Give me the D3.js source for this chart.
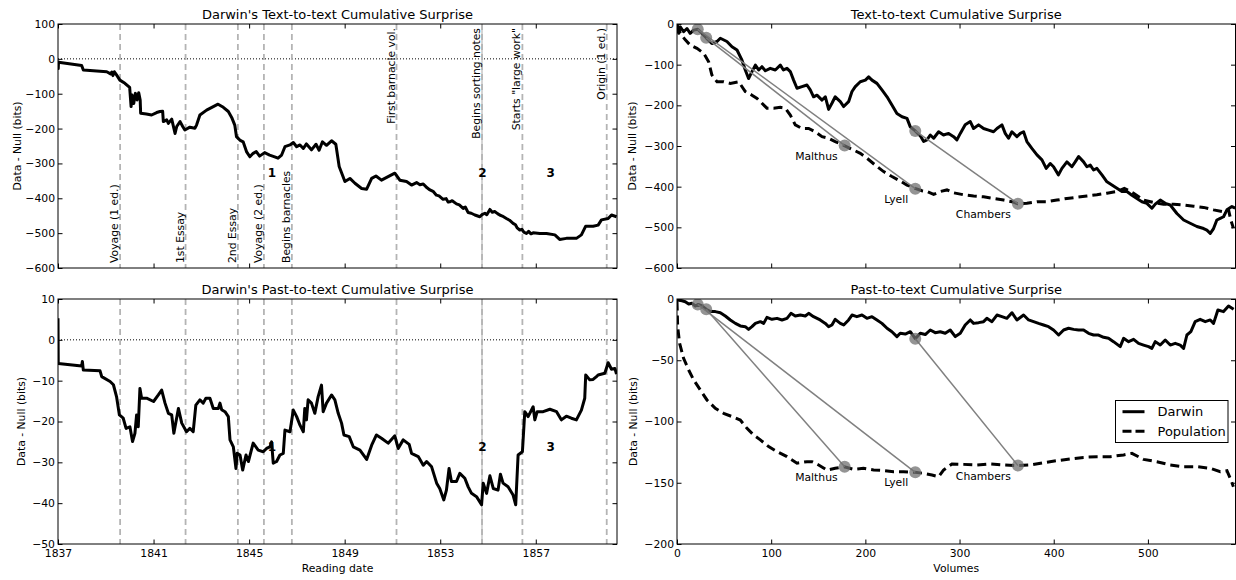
<!DOCTYPE html>
<html><head><meta charset="utf-8">
<script src="https://cdn.jsdelivr.net/npm/d3@7"></script>
<style>body{margin:0;background:#fff} text{font-family:"DejaVu Sans",sans-serif;fill:#000}</style>
</head><body><svg id="c" width="1236" height="580"></svg>
<script>
// ---------------- DATA ----------------
const yearTicks = [1837, 1841, 1845, 1849, 1853, 1857];
const volTicks = [0, 100, 200, 300, 400, 500];
const ttTicks = [100, 0, -100, -200, -300, -400, -500, -600];
const ptTicks = [10, 0, -10, -20, -30, -40, -50];
const rtTicks = [0, -100, -200, -300, -400, -500, -600];
const rpTicks = [0, -50, -100, -150, -200];

const eventNames = ["Voyage (1 ed.)", "1st Essay", "2nd Essay", "Voyage (2 ed.)", "Begins barnacles",
  "First barnacle vol.", "Begins sorting notes", "Starts \"large work\"", "Origin (1 ed.)"];
const eventYears = [1839.6, 1842.34, 1844.53, 1845.62, 1846.79, 1851.17, 1854.75, 1856.44, 1859.97];

const phaseNames = ["1", "2", "3"];
const phaseYears = [1845.95, 1854.77, 1857.62];

// Darwin's text-to-text cumulative surprise vs reading date [year, bits]
const ttDarwin = [[1837.00,-5],[1837.01,-28],[1837.02,-10],[1837.99,-19],[1838.06,-32],[1839.04,-37],[1839.2,-43],[1839.25,-38],[1839.3,-48],[1839.36,-37],[1839.45,-46],[1839.59,-61],[1839.8,-70],[1840.0,-82],[1840.06,-137],[1840.1,-104],[1840.17,-128],[1840.24,-99],[1840.31,-118],[1840.38,-97],[1840.44,-118],[1840.46,-156],[1840.7,-158],[1840.92,-161],[1841.13,-154],[1841.27,-151],[1841.38,-150],[1841.41,-180],[1841.55,-175],[1841.62,-185],[1841.76,-173],[1841.9,-214],[1841.97,-194],[1842.11,-180],[1842.22,-194],[1842.31,-204],[1842.52,-196],[1842.73,-199],[1842.8,-190],[1842.94,-161],[1843.22,-147],[1843.5,-137],[1843.7,-130],[1843.92,-139],[1844.13,-151],[1844.27,-168],[1844.4,-190],[1844.47,-223],[1844.61,-233],[1844.75,-238],[1844.89,-266],[1845.03,-281],[1845.17,-271],[1845.3,-266],[1845.44,-279],[1845.65,-269],[1845.86,-276],[1846.07,-281],[1846.21,-285],[1846.36,-276],[1846.5,-252],[1846.71,-247],[1846.85,-240],[1846.99,-252],[1847.13,-247],[1847.27,-257],[1847.4,-244],[1847.61,-261],[1847.8,-245],[1847.93,-262],[1848.07,-238],[1848.24,-248],[1848.45,-235],[1848.63,-245],[1848.77,-309],[1849.01,-352],[1849.22,-343],[1849.43,-357],[1849.71,-372],[1849.92,-374],[1850.13,-343],[1850.31,-336],[1850.54,-348],[1850.82,-338],[1851.1,-328],[1851.31,-348],[1851.59,-352],[1851.8,-362],[1852.01,-355],[1852.15,-361],[1852.29,-359],[1852.45,-370],[1852.57,-376],[1852.7,-380],[1852.84,-391],[1852.95,-393],[1853.12,-403],[1853.25,-401],[1853.33,-411],[1853.4,-410],[1853.5,-407],[1853.68,-416],[1853.8,-419],[1853.96,-429],[1854.05,-425],[1854.17,-441],[1854.3,-443],[1854.45,-448],[1854.66,-453],[1854.75,-447],[1854.87,-443],[1854.95,-447],[1855.08,-432],[1855.18,-440],[1855.28,-438],[1855.4,-444],[1855.49,-448],[1855.6,-451],[1855.77,-458],[1855.9,-463],[1856.05,-472],[1856.15,-476],[1856.22,-485],[1856.33,-491],[1856.42,-489],[1856.5,-497],[1856.61,-501],[1856.7,-495],[1856.8,-502],[1856.89,-499],[1857.17,-501],[1857.45,-501],[1857.8,-505],[1858.0,-518],[1858.28,-515],[1858.7,-515],[1858.91,-505],[1859.09,-480],[1859.4,-480],[1859.61,-477],[1859.75,-462],[1860.03,-458],[1860.17,-448],[1860.38,-453]];

// Darwin's past-to-text cumulative surprise vs reading date [year, bits]
const ptDarwin = [[1837.0,5.3],[1837.01,-5.8],[1837.99,-6.4],[1838.02,-5.3],[1838.06,-7.4],[1838.76,-7.6],[1838.83,-9],[1839.18,-10.2],[1839.32,-11],[1839.45,-13.9],[1839.57,-18.4],[1839.73,-19.2],[1839.85,-21.7],[1840.01,-21.3],[1840.12,-24.9],[1840.22,-22.9],[1840.29,-18.4],[1840.36,-21.3],[1840.43,-11.9],[1840.5,-14.3],[1840.71,-14.3],[1841.0,-15.1],[1841.2,-13.5],[1841.34,-12.3],[1841.48,-15.5],[1841.62,-18],[1841.76,-18.4],[1841.85,-22.9],[1842.04,-16.8],[1842.18,-20.4],[1842.38,-22.5],[1842.52,-21.7],[1842.66,-22.5],[1842.77,-16],[1842.94,-14.7],[1843.08,-15.5],[1843.19,-14.3],[1843.36,-14.3],[1843.5,-16.8],[1843.71,-16.8],[1843.78,-15.5],[1843.85,-17.1],[1843.99,-17.6],[1844.13,-18.8],[1844.2,-24.5],[1844.34,-26.2],[1844.45,-31.5],[1844.5,-27.8],[1844.62,-28.2],[1844.73,-31.9],[1844.87,-28.2],[1844.97,-29.8],[1845.17,-25.3],[1845.38,-27],[1845.59,-27.4],[1845.73,-26.6],[1845.87,-26.2],[1845.94,-25],[1846.01,-30.2],[1846.15,-29.8],[1846.29,-28.2],[1846.43,-27.8],[1846.5,-22.1],[1846.71,-22.5],[1846.85,-17.2],[1846.99,-18.8],[1847.13,-20.9],[1847.27,-22.5],[1847.33,-16.8],[1847.4,-19.6],[1847.47,-14.7],[1847.61,-15.5],[1847.75,-18],[1847.89,-13.9],[1848.03,-11.1],[1848.1,-17.6],[1848.24,-15.5],[1848.45,-13.5],[1848.59,-14.7],[1848.73,-18],[1848.87,-20.4],[1848.97,-23.3],[1849.19,-23.7],[1849.36,-26.2],[1849.64,-27],[1849.92,-29.3],[1850.13,-25.8],[1850.33,-23.3],[1850.54,-24.1],[1850.82,-25.3],[1851.1,-23.5],[1851.24,-26.6],[1851.45,-24.5],[1851.7,-25.6],[1851.8,-27.8],[1852.08,-28.6],[1852.29,-30.7],[1852.43,-29.8],[1852.64,-31.1],[1852.85,-35.1],[1852.98,-36.4],[1853.15,-39.2],[1853.26,-36.8],[1853.37,-31.5],[1853.47,-34.7],[1853.68,-34.7],[1853.82,-32.7],[1854.03,-33.9],[1854.17,-36],[1854.31,-37.6],[1854.52,-38.4],[1854.73,-40.4],[1854.8,-35.1],[1854.94,-37.6],[1855.08,-33.3],[1855.22,-36.4],[1855.42,-36.8],[1855.52,-32.9],[1855.63,-35.1],[1855.84,-36],[1856.05,-38],[1856.16,-40.4],[1856.26,-28.2],[1856.44,-27.4],[1856.54,-17.6],[1856.68,-18.8],[1856.89,-16.4],[1856.96,-19.6],[1857.06,-17.6],[1857.31,-17.6],[1857.59,-17],[1857.87,-17.6],[1858.07,-19.6],[1858.28,-18.7],[1858.49,-19.2],[1858.7,-19.6],[1858.91,-17.2],[1859.05,-14.3],[1859.09,-8.6],[1859.26,-9.8],[1859.4,-9.7],[1859.54,-9],[1859.61,-8.6],[1859.89,-8.2],[1860.03,-5.6],[1860.17,-7.2],[1860.31,-7],[1860.38,-8.4]];

// Text-to-text vs volumes [volume, bits]
const rtDarwin = [[0,0],[1.8,-23],[3.5,-7],[7,-19],[10.6,-11],[14,-23],[17.7,-15],[22,-13],[26.5,-23],[31,-34],[37,-48],[42.5,-43],[46,-35],[53,-43],[58.4,-56],[63.7,-64],[69,-89],[72.5,-113],[76,-134],[79.6,-117],[83.2,-101],[86.7,-113],[90.2,-105],[93.8,-115],[99,-109],[104.4,-113],[109.7,-101],[113,-113],[116.8,-109],[120.3,-117],[123.8,-138],[127.4,-158],[132.7,-154],[138,-150],[141.5,-162],[145,-179],[148.6,-175],[154,-187],[157.5,-179],[161,-210],[164.5,-195],[168,-179],[173.4,-191],[177,-203],[182.2,-191],[185.8,-166],[189.3,-154],[194.6,-142],[200,-138],[203.5,-130],[207,-138],[212.3,-146],[217.6,-162],[223,-179],[228.2,-199],[233.5,-220],[238.9,-228],[244.2,-232],[247.7,-253],[253,-263],[258.3,-275],[261.9,-289],[265.4,-285],[268.9,-273],[272.5,-281],[277.8,-265],[283,-273],[288.4,-269],[293.7,-277],[297.2,-285],[300.8,-269],[306,-248],[311.4,-240],[314.9,-257],[320.2,-248],[325.5,-257],[330.8,-261],[336.1,-265],[339.7,-257],[345,-248],[348.5,-269],[352,-281],[355.6,-265],[360.9,-277],[364.5,-269],[368,-265],[371.5,-289],[376.8,-306],[382.2,-322],[387.5,-334],[392,-355],[396.3,-343],[399.8,-351],[405,-371],[408.7,-355],[414,-339],[419.3,-351],[422.8,-339],[426.4,-326],[431.7,-339],[435.2,-351],[438.8,-347],[442.3,-359],[445.8,-355],[451.2,-371],[456.5,-388],[461.8,-396],[467.1,-404],[472.4,-412],[477.7,-412],[483,-421],[488.3,-429],[493.6,-437],[498.9,-441],[504.2,-453],[507.8,-443],[513.1,-433],[518.4,-441],[523.7,-445],[530.8,-466],[537.9,-482],[544.9,-490],[552,-498],[559.1,-503],[562.6,-507],[566.2,-515],[569.7,-503],[573.2,-482],[576.8,-478],[580.3,-474],[583.9,-457],[589.2,-449],[592.7,-453]];
const rtPopulation = [[0,-2.5],[3.5,-23],[8.8,-39],[14,-52],[21.2,-60],[28.3,-72],[33.6,-93],[37,-125],[42.5,-142],[49.5,-142],[56.6,-146],[65.5,-142],[72.5,-166],[79.6,-175],[85,-183],[90.2,-195],[95.5,-207],[102.6,-207],[109.7,-205],[115,-207],[120.3,-224],[125.6,-248],[132.7,-257],[139.8,-257],[146.8,-265],[154,-277],[161,-281],[168,-289],[177.6,-299],[187.5,-310],[194.6,-318],[201.7,-330],[210.5,-347],[219.4,-363],[228.2,-375],[235.3,-384],[244.2,-396],[252.7,-404],[260,-410],[265.4,-412],[272.5,-419],[279.5,-412],[286.6,-408],[293.7,-415],[304.3,-420],[314.9,-423],[325.5,-425],[336.1,-429],[346.8,-433],[355.6,-437],[361.6,-442],[371.5,-441],[382.2,-437],[392.8,-437],[403.4,-433],[414,-429],[424.6,-426],[435.2,-423],[445.8,-420],[456.5,-416],[467.1,-412],[474.9,-404],[484.8,-416],[495.4,-433],[506,-439],[516.6,-443],[527.2,-443],[537.9,-445],[548.5,-448],[559.1,-451],[569.7,-457],[580.3,-462],[585.6,-457],[588,-482],[590.8,-502]];

// Past-to-text vs volumes [volume, bits]
const rpDarwin = [[0,-0.8],[5.3,-1.4],[8.8,-2.2],[12.4,-4.1],[16,-3.5],[19.5,-5.7],[22.6,-4.4],[26.5,-5.7],[31,-8.4],[35.4,-10.3],[40.7,-10.3],[46,-11.2],[51.3,-13.9],[56.6,-17.1],[62,-19.9],[67.2,-22],[72.5,-22.6],[76,-24.8],[79.6,-22.6],[83.2,-19.9],[88.5,-18.5],[92,-19.9],[95.5,-15],[100.8,-16.6],[106.2,-15.8],[111.5,-17.1],[116.8,-15.8],[121,-11.7],[125.6,-13.9],[131,-13.1],[136.2,-13.9],[139.8,-11.7],[145,-14.4],[152,-17.1],[157.5,-19.9],[161,-22.6],[164.5,-21.2],[168,-16.6],[173.4,-19.9],[177,-21.2],[182.2,-17.1],[185.8,-13.1],[191,-14.4],[196.4,-13.1],[201.7,-15.8],[207,-14.4],[212.3,-17.1],[217.6,-19.9],[223,-23.9],[228.2,-26.7],[233.5,-30.7],[237,-28],[242.4,-28.6],[247.7,-26.7],[253,-32.4],[258.3,-28],[263.6,-29],[268.9,-25.3],[274.2,-27.5],[279.5,-26.7],[284.8,-28],[290.1,-25.3],[295.5,-30.7],[300.8,-28],[306,-21.2],[311.4,-17.1],[314.9,-19.9],[320.2,-19.3],[325.5,-18.5],[329,-15.8],[334.4,-18.5],[339.7,-13.1],[345,-14.4],[350.3,-15.8],[355.6,-11.2],[360.9,-17.1],[368,-13.1],[373.3,-17.1],[378.6,-18.5],[383.9,-19.9],[389.2,-21.2],[394.5,-22.6],[399.8,-25.3],[405.2,-29.4],[410.5,-25.3],[415.8,-23.9],[421.1,-24.8],[426.4,-25.3],[431.7,-25.3],[437,-28],[442.3,-29.4],[447.6,-29.4],[453,-31.3],[458.2,-32.1],[463.5,-34.8],[470.6,-38.9],[474.2,-32.1],[479.5,-34.8],[484.8,-32.9],[490.1,-36.2],[495.4,-37.6],[500.7,-38.9],[504.2,-40.3],[507.8,-34.8],[513.1,-37.6],[518.4,-33.5],[523.7,-37.6],[529,-36.2],[534.3,-37.6],[537.9,-40.3],[541.4,-29.4],[545.6,-26.7],[550.2,-18.5],[555.5,-16.6],[560.9,-18.5],[566.2,-17.1],[569.7,-19.9],[574.3,-9],[580.3,-10.3],[585.6,-5.7],[591,-8.4]];
const rpPopulation = [[0,-2],[0.7,-22.6],[2.8,-36.2],[7,-48.4],[12.4,-58],[17.7,-66],[24.8,-74.3],[31.8,-82.4],[40.7,-89.3],[49.5,-93.3],[58.4,-96],[67.2,-98.8],[74.3,-105.6],[81.4,-111],[88.5,-115],[97.3,-120.5],[106.2,-124.6],[116.8,-128.7],[127.4,-134],[138,-132.8],[143.3,-132.8],[150.4,-135.5],[159.2,-139.6],[168,-138.2],[177.6,-137],[187.5,-139],[198,-138.2],[208.8,-139.6],[219.4,-140],[230,-141],[240.6,-141],[252.7,-141.5],[261.9,-142.3],[270.7,-143.7],[277.8,-145],[283,-139.6],[291.9,-134.7],[304.3,-135],[318.4,-135.5],[332.6,-134.7],[346.8,-135.5],[361.6,-136],[375.1,-135.5],[389.2,-133.6],[403.4,-132],[417.5,-130.6],[431.7,-129.3],[445.8,-128.7],[460,-128.7],[474.2,-127.3],[483,-126],[495.4,-130.9],[509.5,-132.8],[523.7,-135.5],[537.9,-136.9],[552,-136.9],[566.2,-138.2],[576.8,-141],[583.9,-140.2],[587.4,-146.4],[590.8,-153.2]];

// Highlighted books: Darwin reading index vs population index
const bookNames = ["Malthus", "Lyell", "Chambers"];
const bookDarwinVol = [31, 22, 253];
const bookPopVol = [178, 253, 362];
const bookTTDarwin = [-34, -13, -263];
const bookTTPop = [-299, -405, -442];
const bookPTDarwin = [-8.4, -4.4, -32.4];
const bookPTPop = [-137, -141.5, -136];

const seriesNames = ["Darwin", "Population"];

// ---------------- DRAWING ----------------
const svg = d3.select("#c");
const FONT = "DejaVu Sans";
const SMALL = 10.8, BIG = 13;
let clipN = 0;

function panel(cfg) {
  const x = d3.scaleLinear().domain(cfg.xDomain).range([cfg.x0, cfg.x1]);
  const y = d3.scaleLinear().domain(cfg.yDomain).range([cfg.y1, cfg.y0]);
  const g = svg.append("g");
  const id = "clip" + (clipN++);
  svg.append("clipPath").attr("id", id).append("rect")
    .attr("x", cfg.x0).attr("y", cfg.y0).attr("width", cfg.x1 - cfg.x0).attr("height", cfg.y1 - cfg.y0);
  const plot = g.append("g").attr("clip-path", `url(#${id})`);
  const styleAxis = sel => {
    sel.select(".domain").remove();
    sel.selectAll("line").attr("stroke", "#000").attr("stroke-width", 1);
    sel.selectAll("text").attr("font-family", FONT).attr("font-size", SMALL).attr("fill", "#000");
  };
  const TS = 4.5;
  g.append("g").attr("transform", `translate(${cfg.x0},0)`)
    .call(d3.axisLeft(y).tickValues(cfg.yTicks).tickSize(-TS).tickPadding(3).tickFormat(d3.format("d"))).call(styleAxis);
  g.append("g").attr("transform", `translate(${cfg.x1},0)`)
    .call(d3.axisRight(y).tickValues(cfg.yTicks).tickSize(-TS).tickFormat("")).call(styleAxis);
  g.append("g").attr("transform", `translate(0,${cfg.y1})`)
    .call(d3.axisBottom(x).tickValues(cfg.xTicks).tickSize(-TS).tickPadding(5.5)
      .tickFormat(cfg.showX ? d3.format("d") : "")).call(styleAxis);
  g.append("g").attr("transform", `translate(0,${cfg.y0})`)
    .call(d3.axisTop(x).tickValues(cfg.xTicks).tickSize(-TS).tickFormat("")).call(styleAxis);
  g.append("text").attr("x", (cfg.x0 + cfg.x1) / 2).attr("y", cfg.y0 - 5)
    .attr("text-anchor", "middle").attr("font-size", BIG).text(cfg.title);
  g.append("text").attr("transform", `translate(${cfg.ylabX},${(cfg.y0 + cfg.y1) / 2}) rotate(-90)`)
    .attr("text-anchor", "middle").attr("font-size", SMALL).text("Data - Null (bits)");
  if (cfg.xlabel) g.append("text").attr("x", (cfg.x0 + cfg.x1) / 2).attr("y", 571.5)
    .attr("text-anchor", "middle").attr("font-size", SMALL).text(cfg.xlabel);
  return {x, y, g, plot, cfg};
}

const line = (x, y) => d3.line().x(d => x(d[0])).y(d => y(d[1]));

function leftPanel(P, data, showLabels, phaseY) {
  const {x, y, plot, g, cfg} = P;
  plot.append("line").attr("x1", cfg.x0).attr("x2", cfg.x1).attr("y1", y(0)).attr("y2", y(0))
    .attr("stroke", "#000").attr("stroke-width", 1).attr("stroke-dasharray", "1,2");
  eventYears.forEach((yr, i) => {
    if (eventNames[i] === "Begins sorting notes") {
      plot.append("line").attr("x1", x(yr)).attr("x2", x(yr)).attr("y1", cfg.y0).attr("y2", cfg.y1)
        .attr("stroke", "#d4d4d4").attr("stroke-width", 2);
    }
    plot.append("line").attr("x1", x(yr)).attr("x2", x(yr)).attr("y1", cfg.y0).attr("y2", cfg.y1)
      .attr("stroke", "#b4b4b4").attr("stroke-width", 1.8).attr("stroke-dasharray", "6,4");
  });
  plot.append("path").datum(data).attr("d", line(x, y)).attr("fill", "none")
    .attr("stroke", "#000").attr("stroke-width", 3).attr("stroke-linejoin", "round");
  if (showLabels) {
    eventYears.forEach((yr, i) => {
      const bottom = i < 5;
      g.append("text")
        .attr("transform", `translate(${x(yr) - 2},${bottom ? cfg.y1 - 5 : cfg.y0 + 4}) rotate(-90)`)
        .attr("text-anchor", bottom ? "start" : "end").attr("font-size", SMALL).text(eventNames[i]);
    });
  }
  phaseYears.forEach((yr, i) => {
    g.append("text").attr("x", x(yr)).attr("y", y(phaseY)).attr("dy", "0.35em")
      .attr("text-anchor", "middle").attr("font-size", 12).attr("font-weight", "bold").text(phaseNames[i]);
  });
  g.append("rect").attr("x", cfg.x0).attr("y", cfg.y0).attr("width", cfg.x1 - cfg.x0).attr("height", cfg.y1 - cfg.y0)
    .attr("fill", "none").attr("stroke", "#000").attr("stroke-width", 1);
}

function rightPanel(P, darwin, pop, bD, bP) {
  const {x, y, plot, g, cfg} = P;
  plot.append("path").datum(darwin).attr("d", line(x, y)).attr("fill", "none")
    .attr("stroke", "#000").attr("stroke-width", 3).attr("stroke-linejoin", "round");
  plot.append("path").datum(pop).attr("d", line(x, y)).attr("fill", "none")
    .attr("stroke", "#000").attr("stroke-width", 3).attr("stroke-dasharray", "9,5");
  bookNames.forEach((nm, i) => {
    plot.append("line").attr("x1", x(bookDarwinVol[i])).attr("y1", y(bD[i]))
      .attr("x2", x(bookPopVol[i])).attr("y2", y(bP[i]))
      .attr("stroke", "#808080").attr("stroke-width", 1.5);
  });
  bookNames.forEach((nm, i) => {
    [[bookDarwinVol[i], bD[i]], [bookPopVol[i], bP[i]]].forEach(p => {
      plot.append("circle").attr("cx", x(p[0])).attr("cy", y(p[1])).attr("r", 6)
        .attr("fill", "#707070").attr("fill-opacity", 0.75);
    });
    g.append("text").attr("x", x(bookPopVol[i]) - 7).attr("y", y(bP[i]) + 14)
      .attr("text-anchor", "end").attr("font-size", SMALL).text(nm);
  });
  g.append("rect").attr("x", cfg.x0).attr("y", cfg.y0).attr("width", cfg.x1 - cfg.x0).attr("height", cfg.y1 - cfg.y0)
    .attr("fill", "none").attr("stroke", "#000").attr("stroke-width", 1);
}

const LX0 = 58, LX1 = 617, RX0 = 677, RX1 = 1235.5;
const TY0 = 24, TY1 = 268, BY0 = 299, BY1 = 544;
const yearDomain = [1837, 1860.4], volDomain = [0, 593];

const p1 = panel({x0: LX0, x1: LX1, y0: TY0, y1: TY1, xDomain: yearDomain, yDomain: [-600, 100],
  xTicks: yearTicks, yTicks: ttTicks, showX: false, title: "Darwin's Text-to-text Cumulative Surprise", ylabX: 21});
leftPanel(p1, ttDarwin, true, -327);

const p2 = panel({x0: LX0, x1: LX1, y0: BY0, y1: BY1, xDomain: yearDomain, yDomain: [-50, 10],
  xTicks: yearTicks, yTicks: ptTicks, showX: true, title: "Darwin's Past-to-text Cumulative Surprise", ylabX: 25,
  xlabel: "Reading date"});
leftPanel(p2, ptDarwin, false, -26.3);

const p3 = panel({x0: RX0, x1: RX1, y0: TY0, y1: TY1, xDomain: volDomain, yDomain: [-600, 0],
  xTicks: volTicks, yTicks: rtTicks, showX: false, title: "Text-to-text Cumulative Surprise", ylabX: 636});
rightPanel(p3, rtDarwin, rtPopulation, bookTTDarwin, bookTTPop);

const p4 = panel({x0: RX0, x1: RX1, y0: BY0, y1: BY1, xDomain: volDomain, yDomain: [-200, 0],
  xTicks: volTicks, yTicks: rpTicks, showX: true, title: "Past-to-text Cumulative Surprise", ylabX: 637,
  xlabel: "Volumes"});
rightPanel(p4, rpDarwin, rpPopulation, bookPTDarwin, bookPTPop);

// legend
const lg = svg.append("g");
lg.append("rect").attr("x", 1115.5).attr("y", 400.5).attr("width", 112.5).attr("height", 42)
  .attr("fill", "#fff").attr("stroke", "#000").attr("stroke-width", 1);
seriesNames.forEach((nm, i) => {
  const yy = 411.7 + i * 19.5;
  lg.append("line").attr("x1", 1122.5).attr("x2", 1144.5).attr("y1", yy).attr("y2", yy)
    .attr("stroke", "#000").attr("stroke-width", 3).attr("stroke-dasharray", i ? "9,4" : null);
  lg.append("text").attr("x", 1157.5).attr("y", yy + 4.5).attr("font-size", BIG).text(nm);
});
</script></body></html>
